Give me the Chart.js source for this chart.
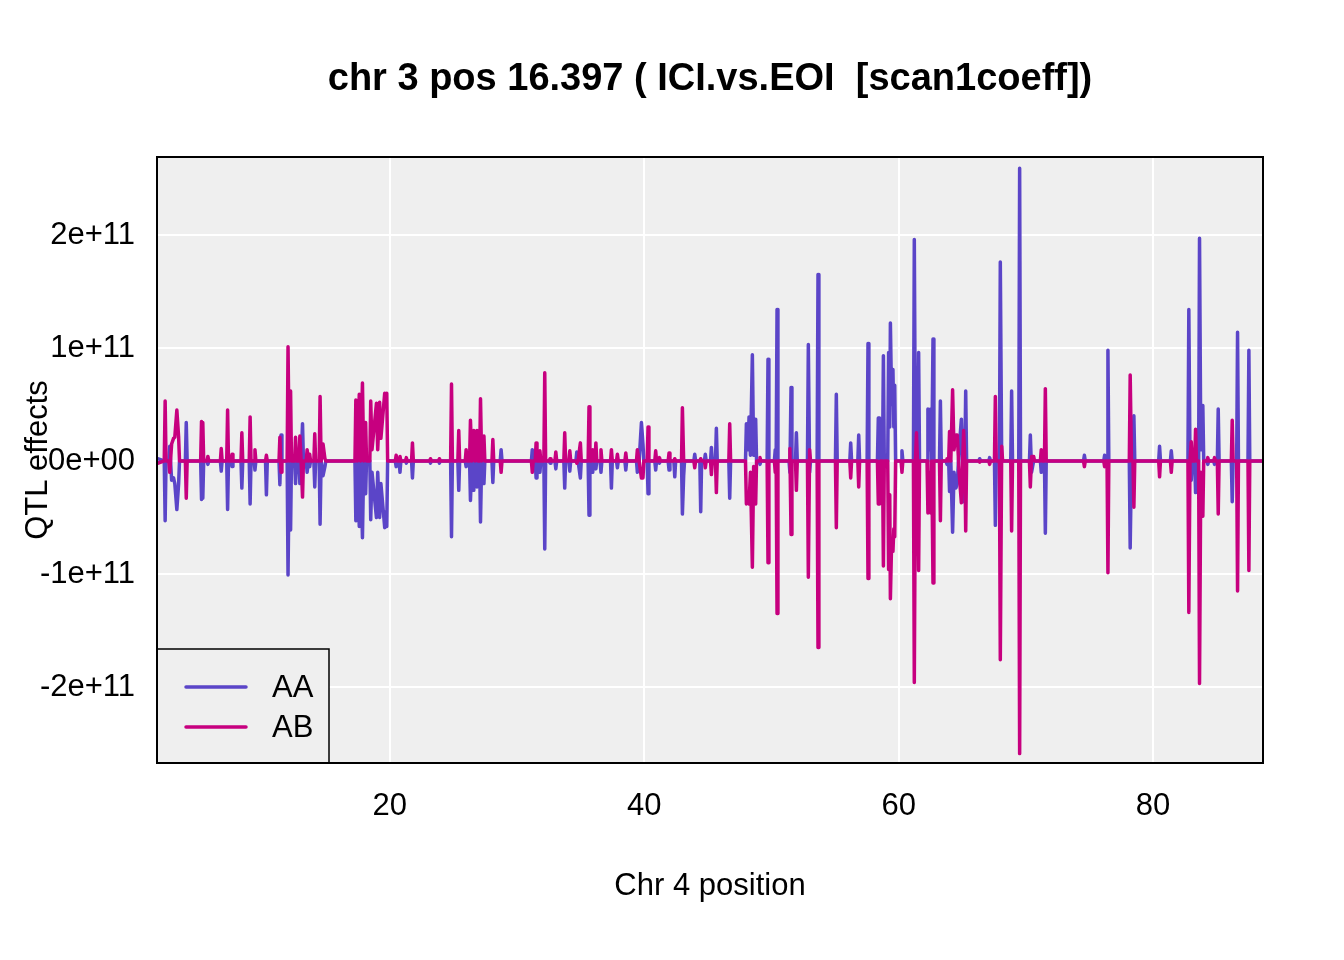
<!DOCTYPE html>
<html>
<head>
<meta charset="utf-8">
<script src="https://cdn.jsdelivr.net/npm/chart.js@4.4.1/dist/chart.umd.min.js"></script>
<style>
  body { margin: 0; background: #ffffff; }
  canvas { display: block; }
</style>
</head>
<body>
<canvas id="grafico" width="1344" height="960"></canvas>
<script>

/* Dados: posição no cromossomo 4 e efeitos (em unidades de 1e+11) */

var pos = [
  1.75, 2.27, 2.34, 2.41, 2.63, 2.7, 2.85, 3.0, 3.1, 3.26, 3.4, 3.47, 3.93, 4.0, 4.07,
  5.13, 5.2, 5.25, 5.3, 5.37, 5.63, 5.7, 5.77, 6.68, 6.75, 6.82, 7.18, 7.25, 7.32, 7.53, 7.6, 7.67,
  8.3, 8.37, 8.44, 8.95, 9.02, 9.09, 9.33, 9.4, 9.47, 10.23, 10.3, 10.37, 11.29, 11.36, 11.45, 11.52,
  11.93, 12.0, 12.1, 12.2, 12.27, 12.52, 12.59, 12.66, 12.86, 12.93, 13.03, 13.14, 13.21,
  13.43, 13.5, 13.6, 13.7, 13.77, 14.03, 14.1, 14.17, 14.45, 14.52, 14.6, 14.75, 14.9, 14.97,
  17.26, 17.33, 17.45, 17.6, 17.7, 17.85, 17.95, 18.1, 18.17,
  18.43, 18.5, 18.6, 18.95, 19.05, 19.2, 19.3, 19.6, 19.68, 19.76, 19.83,
  20.43, 20.5, 20.57, 20.73, 20.8, 20.87, 21.23, 21.3, 21.37, 21.71, 21.78, 21.85, 23.13, 23.2, 23.27, 23.83, 23.9, 23.97,
  24.78, 24.85, 24.92, 25.35, 25.42, 25.49, 25.93, 26.0, 26.07, 26.27, 26.34, 26.45, 26.6, 26.7, 26.85, 26.92,
  27.06, 27.13, 27.22, 27.4, 27.47, 28.03, 28.1, 28.17, 28.68, 28.75, 28.82, 31.13, 31.2, 31.27,
  31.43, 31.5, 31.57, 31.73, 31.8, 31.87, 32.11, 32.18, 32.25, 32.53, 32.6, 32.67, 32.98, 33.05, 33.12,
  33.68, 33.75, 33.82, 34.08, 34.15, 34.22, 34.63, 34.7, 34.8, 34.98, 35.05, 35.59, 35.66, 35.73, 35.88, 35.95, 36.02, 36.13, 36.2, 36.27, 36.53, 36.6, 36.67,
  37.35, 37.42, 37.49, 37.82, 37.89, 37.96, 38.48, 38.55, 38.62, 39.39, 39.46, 39.6, 39.78, 39.9, 39.97, 40.23, 40.3, 40.37,
  40.83, 40.9, 40.97, 41.13, 41.2, 41.27, 41.88, 41.95, 42.02, 42.33, 42.4, 42.47, 42.93, 43.0, 43.1, 43.17,
  43.9, 43.97, 44.04, 44.37, 44.44, 44.51, 44.73, 44.8, 44.87, 45.21, 45.28, 45.35, 45.6, 45.67, 45.74, 46.65, 46.72, 46.79,
  47.96, 48.03, 48.15, 48.24, 48.35, 48.5, 48.6, 48.76, 48.83, 49.03, 49.1, 49.17,
  49.66, 49.73, 49.8, 50.23, 50.3, 50.37, 50.44, 50.51, 51.38, 51.45, 51.54, 51.61, 51.89, 51.96, 52.03, 52.83, 52.9, 53.0, 53.07, 53.59, 53.66, 53.73,
  55.03, 55.1, 55.17, 56.16, 56.23, 56.3, 56.79, 56.86, 56.93, 57.52, 57.59, 57.66,
  58.33, 58.4, 58.45, 58.5, 58.57, 58.73, 58.8, 58.87, 59.14, 59.21, 59.3, 59.35, 59.45, 59.55, 59.62, 59.69, 59.76,
  60.19, 60.26, 60.33, 61.16, 61.23, 61.32, 61.4, 61.48, 61.57, 61.64,
  62.23, 62.3, 62.4, 62.52, 62.6, 62.7, 62.77, 63.21, 63.28, 63.35,
  63.73, 63.8, 63.93, 64.0, 64.1, 64.24, 64.35, 64.5, 64.61, 64.75, 64.93, 65.11, 65.2, 65.27, 65.34,
  66.3, 66.37, 66.44, 67.08, 67.15, 67.22, 67.53, 67.6, 67.67, 67.92, 67.99, 68.1, 68.17, 68.81, 68.88, 68.95, 69.44, 69.51, 69.58,
  70.28, 70.35, 70.45, 70.61, 70.68, 71.14, 71.21, 71.28, 71.46, 71.53, 71.6,
  74.53, 74.6, 74.67, 76.12, 76.19, 76.26, 76.38, 76.45, 76.52, 78.13, 78.2, 78.3, 78.42, 78.49, 78.56,
  80.44, 80.51, 80.58, 81.36, 81.43, 81.5, 82.74, 82.81, 82.9, 83.0, 83.07, 83.27, 83.34, 83.41,
  83.58, 83.65, 83.75, 83.91, 83.98, 84.23, 84.3, 84.37, 84.76, 84.83, 84.9, 85.05, 85.12, 85.19, 86.15, 86.22, 86.29, 86.57, 86.64, 86.71, 87.46, 87.53, 87.6, 88.6
];

var aa = [
  0.02, 0, -0.53, 0, 0, 0.13, -0.17, -0.15, -0.2, -0.43, -0.2, 0, 0, 0.34, 0,
  0, -0.34, 0, -0.33, 0, 0, -0.03, 0, 0, -0.09, 0, 0, -0.43, 0, 0, -0.05, 0,
  0, -0.24, 0, 0, -0.38, 0, 0, -0.08, 0, 0, -0.3, 0, 0, -0.21, 0.23, 0,
  0, -1.01, 0, -0.61, 0, 0, -0.2, 0, 0, -0.2, 0, 0.33, 0,
  0, -0.1, 0, -0.05, 0, 0, -0.23, 0, 0, -0.56, 0, -0.13, -0.05, 0,
  0, -0.53, 0, -0.58, 0, -0.68, 0, -0.29, 0,
  0, -0.52, -0.1, -0.5, -0.1, -0.5, -0.2, -0.59, -0.45, -0.58, 0,
  0, -0.05, 0, 0, -0.1, 0, 0, -0.02, 0, 0, -0.15, 0, 0, -0.02, 0, 0, -0.02, 0,
  0, -0.67, 0, 0, -0.26, 0, 0, -0.05, 0, 0, -0.35, 0, -0.26, 0, -0.23, 0,
  0, -0.54, 0, -0.2, 0, 0, -0.19, 0, 0, 0.1, 0, 0, 0.1, 0,
  0, -0.15, 0, 0, -0.1, 0, 0, -0.78, 0, 0, -0.02, 0, 0, -0.07, 0,
  0, -0.24, 0, 0, -0.09, 0, 0, 0.08, 0, -0.15, 0, 0, -0.48, 0, 0, -0.1, 0, 0, -0.07, 0, 0, -0.1, 0,
  0, -0.24, 0, 0, -0.06, 0, 0, -0.08, 0, 0, -0.1, 0, 0.34, 0.15, 0, 0, -0.29, 0,
  0, -0.08, 0, 0, -0.02, 0, 0, -0.08, 0, 0, -0.14, 0, 0, -0.47, -0.13, 0,
  0, 0.06, 0, 0, -0.45, 0, 0, 0.06, 0, 0, 0.12, 0, 0, 0.29, 0, 0, -0.33, 0,
  0, 0.33, 0.1, 0.39, 0.05, 0.94, 0.05, 0.37, 0, 0, -0.03, 0,
  0, 0.9, 0, 0, 0.1, 0, 1.34, 0, 0, -0.1, 0.65, 0, 0, 0.25, 0, 0, 1.03, -0.1, 0, 0, 1.65, 0,
  0, 0.59, 0, 0, 0.16, 0, 0, 0.23, 0, 0, 1.04, 0,
  0, 0.38, 0.1, 0.38, 0, 0, 0.93, 0, 0, 0.96, 0.3, 1.22, 0.5, 0.81, 0.3, 0.67, 0,
  0, 0.09, 0, 0, 1.96, 0, -0.26, 0, 0.96, 0,
  0, 0.46, 0.1, 0.46, 0, 1.08, 0, 0, 0.53, 0,
  0, -0.03, 0, -0.27, 0, -0.63, -0.1, -0.24, -0.2, 0.1, 0.37, -0.36, 0, 0.62, 0,
  0, 0.02, 0, 0, 0.03, 0, 0, -0.57, 0, 0, 1.76, 0, 0, 0, 0.62, 0, 0, 2.59, 0,
  0, 0.23, -0.1, 0, 0, 0, -0.1, 0, 0, -0.64, 0,
  0, 0.05, 0, 0, 0.05, 0, 0, 0.98, 0, 0, -0.77, 0, 0, 0.4, 0,
  0, 0.13, 0, 0, 0.09, 0, 0, 1.34, 0, -0.17, 0, 0, -0.28, 0,
  0, 1.97, 0.1, 0.49, 0, 0, -0.03, 0, 0, -0.03, 0, 0, 0.46, 0, 0, -0.36, 0, 0, 1.14, 0, 0, 0.98, 0, 0
];

var ab = [
  -0.02, 0, 0.53, 0, 0, -0.1, 0.15, 0.2, 0.21, 0.45, 0.21, 0, 0, -0.33, 0,
  0, 0.35, 0, 0.34, 0, 0, 0.04, 0, 0, 0.11, 0, 0, 0.45, 0, 0, 0.06, 0,
  0, 0.25, 0, 0, 0.39, 0, 0, 0.1, 0, 0, 0.05, 0, 0, 0.21, -0.1, 0,
  0, 1.01, 0, 0.62, 0, 0, 0.21, 0, 0, 0.22, 0, -0.32, 0,
  0, 0.1, 0, 0.06, 0, 0, 0.24, 0, 0, 0.57, 0, 0.15, 0.02, 0,
  0, 0.54, 0, 0.59, 0, 0.69, 0, 0.34, 0,
  0, 0.53, 0.1, 0.51, 0.1, 0.52, 0.2, 0.6, 0.5, 0.6, 0,
  0, 0.05, 0, 0, 0.04, 0, 0, 0.03, 0, 0, 0.16, 0, 0, 0.02, 0, 0, 0.02, 0,
  0, 0.68, 0, 0, 0.27, 0, 0, 0.1, 0, 0, 0.36, 0, 0.27, 0, 0.27, 0,
  0, 0.55, 0, 0.22, 0, 0, 0.19, 0, 0, -0.1, 0, 0, -0.1, 0,
  0, 0.16, 0, 0, 0.09, 0, 0, 0.78, 0, 0, 0.02, 0, 0, 0.08, 0,
  0, 0.25, 0, 0, 0.09, 0, 0, -0.02, 0, 0.16, 0, 0, 0.48, 0, 0, 0.1, 0, 0, 0.16, 0, 0, 0.1, 0,
  0, 0.1, 0, 0, 0.06, 0, 0, 0.07, 0, 0, 0.1, 0, -0.15, -0.15, 0, 0, 0.3, 0,
  0, 0.09, 0, 0, 0.03, 0, 0, 0.07, 0, 0, 0.02, 0, 0, 0.47, 0, 0,
  0, -0.06, 0, 0, 0.02, 0, 0, -0.06, 0, 0, -0.12, 0, 0, -0.28, 0, 0, 0.33, 0,
  0, -0.38, -0.35, -0.38, -0.1, -0.94, -0.05, -0.38, 0, 0, 0.03, 0,
  0, -0.9, 0, 0, -0.1, 0, -1.35, 0, 0, 0.11, -0.65, 0, 0, -0.26, 0, 0, -1.03, 0.1, 0, 0, -1.65, 0,
  0, -0.59, 0, 0, -0.15, 0, 0, -0.23, 0, 0, -1.04, 0,
  0, -0.38, -0.1, -0.38, 0, 0, -0.93, 0, 0, -0.96, -0.3, -1.22, -0.7, -0.8, -0.6, -0.67, 0,
  0, -0.1, 0, 0, -1.96, 0, 0.25, 0, -0.97, 0,
  0, -0.46, -0.1, -0.46, 0, -1.08, 0, 0, -0.53, 0,
  0, 0.02, 0, 0.26, 0, 0.63, 0.1, 0.23, 0.23, -0.1, -0.37, 0.27, 0, -0.62, 0,
  0, -0.01, 0, 0, -0.03, 0, 0, 0.57, 0, 0, -1.76, 0.13, 0, 0, -0.62, 0, 0, -2.59, 0,
  0, -0.23, 0.04, 0.04, 0, 0, 0.1, 0, 0, 0.64, 0,
  0, -0.05, 0, 0, -0.05, 0, 0, -0.99, 0, 0, 0.76, 0, 0, -0.41, 0,
  0, -0.14, 0, 0, -0.1, 0, 0, -1.34, 0, 0.17, 0, 0, 0.28, 0,
  0, -1.97, -0.1, -0.49, 0, 0, 0.03, 0, 0, 0.03, 0, 0, -0.47, 0, 0, 0.36, 0, 0, -1.15, 0, 0, -0.97, 0, 0
];

var series = ['AA', 'AB'];
var xTicks = [20, 40, 60, 80];
var yTicks = [-2, -1, 0, 1, 2];
var yTickLabels = ['-2e+11', '-1e+11', '0e+00', '1e+11', '2e+11'];

var corAA = '#5b45c8';
var corAB = '#c7007f';
var fonte = '"Liberation Sans", Arial, Helvetica, sans-serif';

/* monta os pontos {x,y} para o Chart.js */
function pontos(ys) {
  return pos.map(function (x, i) { return { x: x, y: ys[i] }; });
}

/* fundo cinza, moldura, legenda e textos */
var enfeites = {
  id: 'enfeites',
  beforeDraw: function (chart) {
    var c = chart.ctx, a = chart.chartArea;
    c.save();
    c.fillStyle = '#ffffff';
    c.fillRect(0, 0, chart.width, chart.height);
    c.fillStyle = '#efefef';
    c.fillRect(a.left, a.top, a.right - a.left, a.bottom - a.top);
    c.restore();
  },
  afterDraw: function (chart) {
    var c = chart.ctx, a = chart.chartArea;
    c.save();

    // legenda no canto inferior esquerdo
    var lx = a.left, ly = 649, lw = 172, lh = a.bottom - 649;
    c.fillStyle = '#efefef';
    c.fillRect(lx, ly, lw, lh);
    c.strokeStyle = '#000';
    c.lineWidth = 1.5;
    c.strokeRect(lx, ly, lw, lh);
    var cores = [corAA, corAB];
    c.font = '31px ' + fonte;
    c.textBaseline = 'middle';
    c.textAlign = 'left';
    c.lineCap = 'round';
    for (var i = 0; i < series.length; i++) {
      var yy = 687 + i * 40;
      c.strokeStyle = cores[i];
      c.lineWidth = 3.5;
      c.beginPath();
      c.moveTo(lx + 29, yy);
      c.lineTo(lx + 89, yy);
      c.stroke();
      c.fillStyle = '#000';
      c.fillText(series[i], lx + 115, yy + 1);
    }

    // moldura do gráfico
    c.strokeStyle = '#000';
    c.lineWidth = 2;
    c.strokeRect(a.left, a.top, a.right - a.left, a.bottom - a.top);

    // títulos
    var cx = (a.left + a.right) / 2;
    c.fillStyle = '#000';
    c.textAlign = 'center';
    c.textBaseline = 'middle';
    c.font = 'bold 38px ' + fonte;
    c.fillText('chr 3 pos 16.397 ( ICI.vs.EOI  [scan1coeff])', cx, 80);
    c.font = '31px ' + fonte;
    c.fillText('Chr 4 position', cx, 886);
    c.translate(38, (a.top + a.bottom) / 2);
    c.rotate(-Math.PI / 2);
    c.fillText('QTL effects', 0, 0);
    c.restore();
  }
};

var ctx = document.getElementById('grafico').getContext('2d');
var grafico = new Chart(ctx, {
  type: 'line',
  data: {
    datasets: [
      { label: series[0], data: pontos(aa), borderColor: corAA, borderWidth: 3.5, order: 2,
        pointRadius: 0, fill: false, tension: 0, borderCapStyle: 'round', borderJoinStyle: 'round' },
      { label: series[1], data: pontos(ab), borderColor: corAB, borderWidth: 3.5, order: 1,
        pointRadius: 0, fill: false, tension: 0, borderCapStyle: 'round', borderJoinStyle: 'round' }
    ]
  },
  options: {
    responsive: false,
    animation: false,
    devicePixelRatio: 1,
    layout: { padding: { top: 157, right: 81, left: 0, bottom: 0 } },
    plugins: {
      legend: { display: false },
      title: { display: false },
      tooltip: { enabled: false }
    },
    scales: {
      x: {
        type: 'linear',
        min: 1.7,
        max: 88.64,
        afterBuildTicks: function (s) { s.ticks = xTicks.map(function (v) { return { value: v }; }); },
        afterFit: function (s) { s.height = 197; },
        grid: { color: '#ffffff', lineWidth: 2, drawTicks: false },
        border: { display: false },
        ticks: { font: { family: fonte, size: 31 }, color: '#000', padding: 25, maxRotation: 0, autoSkip: false }
      },
      y: {
        type: 'linear',
        min: -2.673,
        max: 2.69,
        afterBuildTicks: function (s) { s.ticks = yTicks.map(function (v) { return { value: v }; }); },
        afterFit: function (s) { s.width = 157; },
        grid: { color: '#ffffff', lineWidth: 2, drawTicks: false },
        border: { display: false },
        ticks: {
          font: { family: fonte, size: 31 }, color: '#000', padding: 22, autoSkip: false,
          callback: function (v, i) { return yTickLabels[i]; }
        }
      }
    }
  },
  plugins: [enfeites]
});
</script>
</body>
</html>
